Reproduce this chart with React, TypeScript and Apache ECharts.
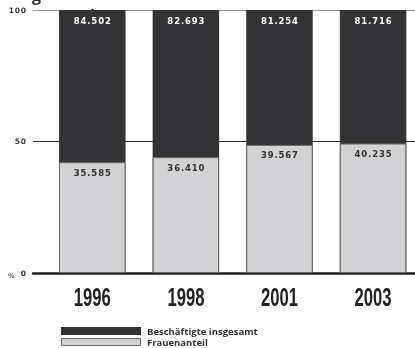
import React, { useEffect, useRef } from "react";
import * as echarts from "echarts";

const years = ["1996", "1998", "2001", "2003"];
const totalEmployed = [84502, 82693, 81254, 81716];
const womenEmployed = [35585, 36410, 39567, 40235];
const totalPct = [100, 100, 100, 100];
const yTicks = [0, 50, 100];
const seriesNames = ["Beschäftigte insgesamt", "Frauenanteil"];
const darkColor = "#333335";
const lightColor = "#d2d2d4";

const fmt = (n: number) => {
  const s = String(n);
  return s.slice(0, s.length - 3) + "." + s.slice(s.length - 3);
};
const spaced = (s: string) => s.split("").join("\u200A");

const legendFont = {
  fontFamily: "'Open Sans', 'Noto Sans', sans-serif",
  fontWeight: "bold",
  fontSize: 9.5,
  fill: "#333",
  verticalAlign: "middle",
};

export default function App() {
  const ref = useRef<HTMLDivElement>(null);
  useEffect(() => {
    if (!ref.current) return;
    const chart = echarts.init(ref.current, null, { renderer: "svg" });
    const womenPct = womenEmployed.map((w, i) => (w / totalEmployed[i]) * 100);
    const barLabel = {
      show: true,
      position: "insideTop",
      distance: 6,
      fontFamily: "'DejaVu Sans', sans-serif",
      fontWeight: "bold",
      fontSize: 8.5,
    };
    chart.setOption({
      animation: false,
      grid: { left: 33, right: 0, top: 10, bottom: 75 },
      xAxis: {
        type: "value",
        min: -0.6335,
        max: 3.448,
        axisLine: { show: true, onZero: false, lineStyle: { color: "#222", width: 2.5 } },
        axisTick: { show: false },
        splitLine: { show: false },
        axisLabel: { show: false },
      },
      yAxis: {
        type: "value",
        min: 0,
        max: 100,
        interval: 50,
        axisLine: { show: true, lineStyle: { color: "#222", width: 2.5 } },
        axisTick: { show: false },
        splitLine: { show: true, lineStyle: { color: ["#333", "#333", "#999"], width: 1 } },
        axisLabel: {
          customValues: yTicks,
          formatter: (v: number) => spaced(String(v)),
          margin: 7,
          fontFamily: "'DejaVu Sans', sans-serif",
          fontWeight: "bold",
          fontSize: 7.5,
          color: "#333",
        },
      },
      series: [
        {
          name: seriesNames[0],
          type: "bar",
          barWidth: 66.5,
          barGap: "-100%",
          data: totalPct.map((v, i) => [i, v]),
          itemStyle: { color: darkColor },
          label: {
            ...barLabel,
            formatter: (p: any) => spaced(fmt(totalEmployed[p.dataIndex])),
            color: "#fff",
          },
        },
        {
          name: seriesNames[1],
          type: "bar",
          barWidth: 66.5,
          barGap: "-100%",
          data: womenPct.map((v, i) => [i, v]),
          itemStyle: { color: lightColor, borderColor: "#6b6b6b", borderWidth: 1 },
          label: {
            ...barLabel,
            formatter: (p: any) => spaced(fmt(womenEmployed[p.dataIndex])),
            color: "#333",
          },
        },
      ],
    });
    const yearTexts = years.map((y, i) => {
      const [px, py] = chart.convertToPixel({ xAxisIndex: 0, yAxisIndex: 0 }, [i, 0]) as number[];
      return {
        type: "text",
        x: px,
        y: py + 11,
        scaleX: 0.64,
        style: {
          text: y,
          fontFamily: "'Liberation Sans', Arial, sans-serif",
          fontWeight: "bold",
          fontSize: 26,
          fill: "#222",
          align: "center",
          verticalAlign: "top",
        },
      };
    });
    chart.setOption({
      graphic: [
        ...yearTexts,
        {
          type: "rect",
          shape: { x: 61, y: 327, width: 80, height: 8 },
          style: { fill: darkColor },
        },
        {
          type: "rect",
          shape: { x: 61.5, y: 338.5, width: 79, height: 7 },
          style: { fill: lightColor, stroke: "#6b6b6b", lineWidth: 1 },
        },
        {
          type: "text",
          x: 147,
          y: 331,
          style: { ...legendFont, text: seriesNames[0] },
        },
        {
          type: "text",
          x: 147,
          y: 342.5,
          style: { ...legendFont, text: seriesNames[1] },
        },
        {
          type: "text",
          x: 8,
          y: 272,
          style: {
            text: "%",
            fontFamily: "'DejaVu Sans', sans-serif",
            fontWeight: "bold",
            fontSize: 6.5,
            fill: "#555",
          },
        },
        {
          type: "text",
          x: 32,
          y: 3,
          style: {
            text: "g",
            fontFamily: "'Open Sans', sans-serif",
            fontWeight: "bold",
            fontSize: 16,
            fill: "#333",
            verticalAlign: "bottom",
          },
        },
      ],
    });
    return () => chart.dispose();
  }, []);
  return (
    <div
      ref={ref}
      style={{ position: "fixed", left: 0, top: 0, width: 415, height: 348 }}
    />
  );
}
